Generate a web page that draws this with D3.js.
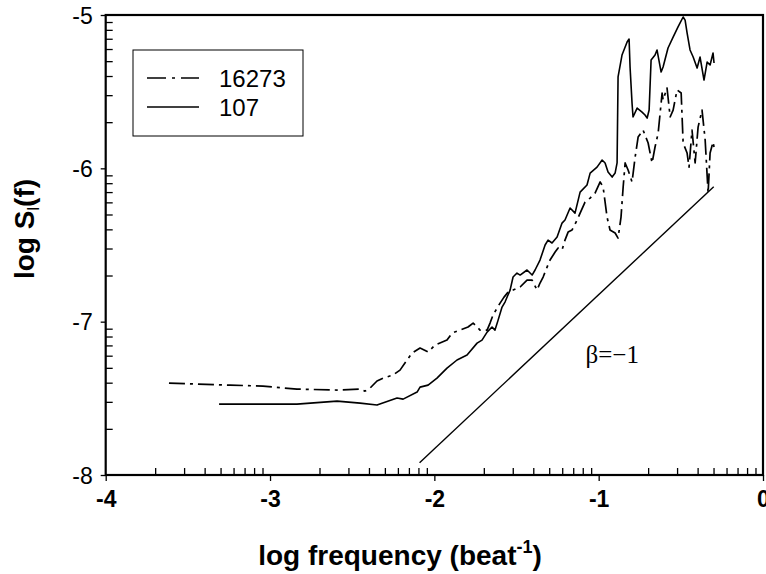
<!DOCTYPE html>
<html>
<head>
<meta charset="utf-8">
<script src="https://cdn.jsdelivr.net/npm/d3@7"></script>
<style>
  body { margin: 0; background: #fff; }
  svg text { font-family: "Liberation Sans", Arial, sans-serif; }
</style>
</head>
<body>
<script>
'use strict';

// log10 frequency / log10 spectrum
const freq16273 = [-3.615, -3.243, -3.043, -2.836, -2.592, -2.452, -2.422, -2.391, -2.349, -2.312,
  -2.251, -2.209, -2.166, -2.136, -2.087, -2.038, -1.996, -1.923, -1.892, -1.844,
  -1.795, -1.764, -1.740, -1.722, -1.679, -1.661, -1.643, -1.618, -1.600, -1.576,
  -1.551, -1.521, -1.478, -1.436, -1.405, -1.375, -1.357, -1.338, -1.314, -1.296,
  -1.265, -1.247, -1.223, -1.205, -1.186, -1.162, -1.131, -1.113, -1.083, -1.052,
  -1.022, -0.991, -0.973, -0.949, -0.931, -0.900, -0.882, -0.864, -0.851, -0.839,
  -0.821, -0.797, -0.778, -0.760, -0.730, -0.699, -0.675, -0.657, -0.638, -0.614,
  -0.608, -0.584, -0.565, -0.547, -0.523, -0.498, -0.486, -0.462, -0.450, -0.432,
  -0.413, -0.395, -0.371, -0.352, -0.334, -0.322, -0.304, -0.298];
const spec16273 = [-7.401, -7.414, -7.420, -7.440, -7.446, -7.440, -7.453, -7.433, -7.387, -7.368,
  -7.348, -7.316, -7.250, -7.205, -7.172, -7.198, -7.153, -7.120, -7.074, -7.055,
  -7.035, -7.009, -7.035, -7.055, -7.055, -7.009, -6.957, -6.911, -6.879, -6.840,
  -6.807, -6.794, -6.774, -6.729, -6.729, -6.794, -6.748, -6.709, -6.644, -6.598,
  -6.546, -6.520, -6.533, -6.468, -6.416, -6.402, -6.337, -6.292, -6.220, -6.194,
  -6.161, -6.089, -6.122, -6.318, -6.402, -6.422, -6.455, -6.318, -6.122, -5.965,
  -6.011, -6.089, -5.926, -5.796, -5.750, -5.835, -5.965, -5.861, -5.770, -5.509,
  -5.554, -5.476, -5.665, -5.620, -5.489, -5.509, -5.835, -5.900, -5.992, -5.750,
  -5.965, -5.731, -5.620, -5.815, -6.161, -5.900, -5.828, -5.861];

const freq107 = [-3.310, -2.836, -2.592, -2.452, -2.349, -2.227, -2.190, -2.105, -2.087, -2.038,
  -1.984, -1.923, -1.862, -1.801, -1.740, -1.710, -1.679, -1.649, -1.631, -1.612,
  -1.588, -1.570, -1.539, -1.521, -1.497, -1.478, -1.436, -1.405, -1.387, -1.357,
  -1.326, -1.308, -1.284, -1.253, -1.223, -1.205, -1.174, -1.144, -1.113, -1.071,
  -1.052, -1.010, -0.979, -0.961, -0.943, -0.918, -0.900, -0.888, -0.882, -0.858,
  -0.827, -0.815, -0.809, -0.797, -0.791, -0.766, -0.736, -0.718, -0.705, -0.693,
  -0.681, -0.657, -0.645, -0.620, -0.608, -0.578, -0.547, -0.517, -0.486, -0.474,
  -0.462, -0.444, -0.425, -0.401, -0.383, -0.359, -0.340, -0.322, -0.304, -0.298];
const spec107 = [-7.538, -7.538, -7.518, -7.531, -7.544, -7.498, -7.505, -7.459, -7.427, -7.414,
  -7.368, -7.303, -7.250, -7.218, -7.140, -7.120, -7.068, -7.035, -7.055, -6.990,
  -6.905, -6.872, -6.794, -6.709, -6.683, -6.696, -6.663, -6.696, -6.663, -6.598,
  -6.500, -6.468, -6.487, -6.448, -6.357, -6.337, -6.259, -6.292, -6.155, -6.109,
  -6.031, -5.992, -5.946, -5.965, -6.024, -6.057, -6.031, -5.965, -5.404, -5.261,
  -5.176, -5.157, -5.339, -5.574, -5.665, -5.607, -5.633, -5.652, -5.672, -5.620,
  -5.294, -5.261, -5.228, -5.372, -5.339, -5.215, -5.144, -5.078, -5.013, -5.033,
  -5.117, -5.228, -5.274, -5.346, -5.274, -5.424, -5.307, -5.326, -5.248, -5.313];

// slope -1 guide line (two end points)
const betaFreq = [-2.09, -0.30];
const betaSpec = [-7.92, -6.12];

const xTickLabels = [-4, -3, -2, -1, 0];
const yTickLabels = [-8, -7, -6, -5];
const seriesNames = ['16273', '107'];

(function () {

  let svgContainer = ""; // keep SVG reference in scope
  const dashDot = '16,5,3,5';

  window.onload = function () {
    svgContainer = d3.select('body')
      .append('svg')
      .attr('width', 766)
      .attr('height', 574);

    let map = drawAxes();
    plotData(map);
    makeLegend();
    makeLabels();
  }

  // draw the log axes, ticks and frame
  function drawAxes() {
    let xScale = d3.scaleLog()
      .domain([1e-4, 1])
      .range([105.7, 763]);

    let yScale = d3.scaleLog()
      .domain([1e-8, 1e-5])
      .range([475, 15]);

    let isMajor = (d) => Math.abs(Math.log10(d) - Math.round(Math.log10(d))) < 1e-9;
    let fmt = (d) => String(Math.round(Math.log10(d)));

    // minor ticks point inward
    let xMinor = svgContainer.append('g')
      .attr('transform', 'translate(0, 475)')
      .call(d3.axisBottom(xScale)
        .tickValues(xScale.ticks().filter((d) => !isMajor(d)))
        .tickSize(-7)
        .tickFormat(''));
    xMinor.select('.domain').remove();

    let yMinor = svgContainer.append('g')
      .attr('transform', 'translate(105.7, 0)')
      .call(d3.axisLeft(yScale)
        .tickValues(yScale.ticks().filter((d) => !isMajor(d)))
        .tickSize(-7)
        .tickFormat(''));
    yMinor.select('.domain').remove();

    // major ticks point outward with labels
    let xAxis = svgContainer.append('g')
      .attr('transform', 'translate(0, 475)')
      .call(d3.axisBottom(xScale)
        .tickValues(xTickLabels.map((v) => Math.pow(10, v)))
        .tickSize(6)
        .tickFormat(fmt));
    xAxis.select('.domain').remove();
    xAxis.selectAll('text')
      .attr('y', 32)
      .attr('dy', 0)
      .style('font-family', '"Liberation Sans", Arial, sans-serif')
      .style('font-size', '23px')
      .style('font-weight', 'bold')
      .attr('fill', '#000');

    let yAxis = svgContainer.append('g')
      .attr('transform', 'translate(105.7, 0)')
      .call(d3.axisLeft(yScale)
        .tickValues(yTickLabels.map((v) => Math.pow(10, v)))
        .tickSize(5)
        .tickFormat(fmt));
    yAxis.select('.domain').remove();
    yAxis.selectAll('text')
      .attr('x', -13)
      .attr('dy', '0.35em')
      .style('font-family', '"Liberation Sans", Arial, sans-serif')
      .style('font-size', '23px')
      .attr('fill', '#000');

    svgContainer.selectAll('.tick line')
      .attr('stroke', '#000')
      .attr('stroke-width', 1.3);

    // frame
    svgContainer.append('rect')
      .attr('x', xScale.range()[0])
      .attr('y', yScale.range()[1])
      .attr('width', xScale.range()[1] - xScale.range()[0])
      .attr('height', yScale.range()[0] - yScale.range()[1])
      .attr('fill', 'none')
      .attr('stroke', '#000')
      .attr('stroke-width', 2.2);

    return {
      x: (v) => xScale(Math.pow(10, v)),
      y: (v) => yScale(Math.pow(10, v))
    };
  }

  // draw both spectra and the beta guide line
  function plotData(map) {
    let valueLine = d3.line()
      .x((d) => map.x(d[0]))
      .y((d) => map.y(d[1]));

    svgContainer.append('path')
      .attr('d', valueLine(d3.zip(freq107, spec107)))
      .attr('fill', 'none')
      .attr('stroke', '#000')
      .attr('stroke-width', 1.6)
      .attr('stroke-linejoin', 'round');

    svgContainer.append('path')
      .attr('d', valueLine(d3.zip(freq16273, spec16273)))
      .attr('fill', 'none')
      .attr('stroke', '#000')
      .attr('stroke-width', 1.7)
      .attr('stroke-dasharray', dashDot)
      .attr('stroke-linejoin', 'round');

    svgContainer.append('path')
      .attr('d', valueLine(d3.zip(betaFreq, betaSpec)))
      .attr('fill', 'none')
      .attr('stroke', '#000')
      .attr('stroke-width', 1.4);

    svgContainer.append('text')
      .attr('x', map.x(-1.08))
      .attr('y', map.y(-7.27))
      .style('font-family', '"Liberation Serif", "Times New Roman", serif')
      .style('font-size', '25px')
      .text('\u03b2=\u22121');
  }

  // legend box with the two line styles
  function makeLegend() {
    let legend = svgContainer.append('g');

    legend.append('rect')
      .attr('x', 133)
      .attr('y', 50)
      .attr('width', 170)
      .attr('height', 86)
      .attr('fill', '#fff')
      .attr('stroke', '#000')
      .attr('stroke-width', 1);

    let rows = legend.selectAll('.row')
      .data(seriesNames)
      .enter()
      .append('g')
      .attr('transform', (d, i) => 'translate(0,' + (78 + i * 29) + ')');

    rows.append('line')
      .attr('x1', 147)
      .attr('x2', 199)
      .attr('stroke', '#000')
      .attr('stroke-width', 1.4)
      .attr('stroke-dasharray', (d, i) => i === 0 ? '19,6,3,6' : null);

    rows.append('text')
      .attr('x', 219)
      .attr('y', 9)
      .style('font-size', '24px')
      .text((d) => d);
  }

  // axis titles
  function makeLabels() {
    let xLabel = svgContainer.append('text')
      .attr('x', 400)
      .attr('y', 565)
      .attr('text-anchor', 'middle')
      .style('font-size', '28px')
      .style('font-weight', 'bold');
    xLabel.append('tspan').text('log frequency (beat');
    xLabel.append('tspan').attr('dy', -12).style('font-size', '18px').text('-1');
    xLabel.append('tspan').attr('dy', 12).text(')');

    let yLabel = svgContainer.append('text')
      .attr('transform', 'translate(34, 229)rotate(-90)')
      .attr('text-anchor', 'middle')
      .style('font-size', '28px')
      .style('font-weight', 'bold');
    yLabel.append('tspan').text('log S');
    yLabel.append('tspan').attr('dy', 5).style('font-size', '17px').style('font-weight', 'normal').text('l');
    yLabel.append('tspan').attr('dy', -5).text('(f)');
  }

})();
</script>
</body>
</html>
